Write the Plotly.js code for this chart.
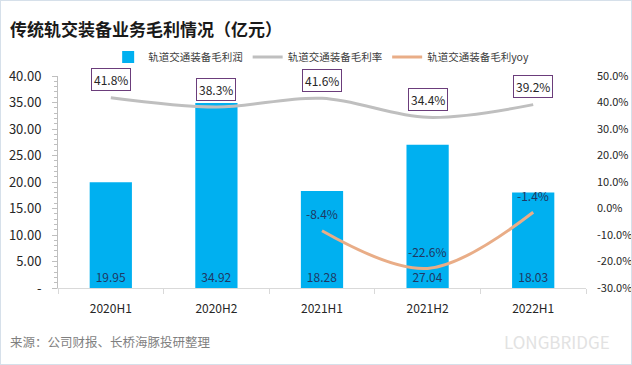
<!DOCTYPE html>
<html><head><meta charset="utf-8">
<script src="https://cdn.plot.ly/plotly-3.0.1.min.js"></script>
<style>
html,body{margin:0;padding:0;background:#fff;}
#chart{width:630px;height:363px;border:1px solid #d6e0ea;}
</style></head>
<body><div id="chart"></div>
<script>
const categories = ["2020H1","2020H2","2021H1","2021H2","2022H1"];
const grossProfit = [19.95, 34.92, 18.28, 27.04, 18.03];
const grossMargin = [41.8, 38.3, 41.6, 34.4, 39.2];
const yoyCats = ["2021H1","2021H2","2022H1"];
const yoyValues = [-8.4, -22.6, -1.4];
const leftTicks = [0,5,10,15,20,25,30,35,40];
const leftTickText = ["-","5.00","10.00","15.00","20.00","25.00","30.00","35.00","40.00"];
const rightTicks = [-30,-20,-10,0,10,20,30,40,50];

const font = "'Noto Sans CJK SC', 'Noto Sans', sans-serif";

const traces = [
  {type:"bar", name:"轨道交通装备毛利润", x:categories, y:grossProfit,
   marker:{color:"#00b0f0"}, width:0.4,
   text:grossProfit.map(v=>v.toFixed(2)), textposition:"inside", insidetextanchor:"start",
   textfont:{color:"#1f3864", size:12, family:font}, cliponaxis:false, hoverinfo:"skip"},
  {type:"scatter", mode:"lines", name:"轨道交通装备毛利率", x:categories, y:grossMargin, yaxis:"y2",
   line:{color:"#bfbfbf", width:3, shape:"spline", smoothing:1}},
  {type:"scatter", mode:"lines", name:"轨道交通装备毛利yoy", x:yoyCats, y:yoyValues, yaxis:"y2",
   line:{color:"#e9ad87", width:3, shape:"spline", smoothing:1}}
];

const annotations = [];
categories.forEach((c,i)=>{
  annotations.push({x:c, y:grossMargin[i], xref:"x", yref:"y2", text:grossMargin[i].toFixed(1)+"%",
    showarrow:false, yshift:18, bordercolor:"#6b3d7b", borderwidth:1, borderpad:2, bgcolor:"#fff",
    font:{size:12, color:"#262626", family:font}});
});
yoyCats.forEach((c,i)=>{
  annotations.push({x:c, y:yoyValues[i], xref:"x", yref:"y2", text:yoyValues[i].toFixed(1)+"%",
    showarrow:false, yshift:17, font:{size:12, color:"#1f3864", family:font}});
});
annotations.push({xref:"paper", yref:"paper", x:-0.095, y:1.225, xanchor:"left", yanchor:"middle",
  text:"<b>传统轨交装备业务毛利情况（亿元）</b>", showarrow:false, font:{size:17, color:"#1a1a1a", family:font}});
annotations.push({xref:"paper", yref:"paper", x:-0.095, y:-0.25, xanchor:"left", yanchor:"middle",
  text:"来源：公司财报、长桥海豚投研整理", showarrow:false, font:{size:12.5, color:"#7f7f7f", family:font}});
annotations.push({xref:"paper", yref:"paper", x:1.05, y:-0.25, xanchor:"right", yanchor:"middle",
  text:"LONGBRIDGE", showarrow:false, font:{size:17, color:"#e2e2e2", family:font}});

const layout = {
  width:630, height:363,
  margin:{l:57, r:45, t:75, b:76},
  paper_bgcolor:"#fff", plot_bgcolor:"#fff",
  font:{family:font, size:12, color:"#262626"},
  showlegend:true,
  legend:{orientation:"h", x:0.095, y:1.09, xanchor:"left", yanchor:"middle",
    font:{size:10.5, color:"#404040", family:font}, itemwidth:30, traceorder:"normal", bgcolor:"rgba(0,0,0,0)"},
  xaxis:{type:"category", showgrid:false, showline:true, linecolor:"#d9d9d9", linewidth:1,
    ticks:"outside", tickson:"boundaries", ticklen:5, tickcolor:"#d9d9d9",
    tickfont:{size:12, color:"#262626"}, ticklabelstandoff:10, fixedrange:true},
  yaxis:{range:[0,40], tickvals:leftTicks, ticktext:leftTickText, showgrid:false, zeroline:false,
    showline:true, linecolor:"#bfbfbf", ticks:"outside", ticklen:5, tickcolor:"#bfbfbf",
    minor:{dtick:1, ticks:"outside", ticklen:3, tickcolor:"#bfbfbf", showgrid:false},
    tickfont:{size:13, color:"#262626"}, ticklabelstandoff:8},
  yaxis2:{range:[-30,50], overlaying:"y", side:"right", tickvals:rightTicks,
    ticktext:rightTicks.map(v=>v.toFixed(1)+"%"), showgrid:false, zeroline:false, showline:false,
    tickfont:{size:11, color:"#262626"}, ticklabelstandoff:10},
  bargap:0.6,
  annotations:annotations
};
Plotly.newPlot("chart", traces, layout, {displayModeBar:false, staticPlot:true});
</script></body></html>
